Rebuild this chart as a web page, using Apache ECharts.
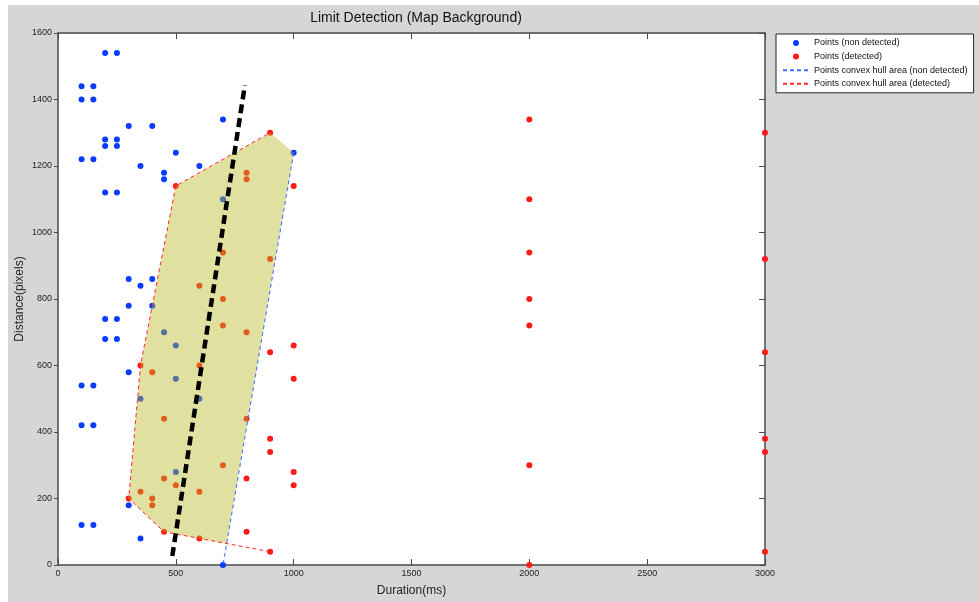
<!DOCTYPE html>
<html>
<head>
<meta charset="utf-8">
<script src="https://cdn.jsdelivr.net/npm/echarts@6/dist/echarts.min.js"></script>
<style>html,body{margin:0;padding:0;background:#fff;}#c{width:979px;height:602px;}</style>
</head>
<body>
<div id="c"></div>
<script>
// Data (Duration ms, Distance pixels)
var nonDetected = [
  [200,1540],[250,1540],[100,1440],[150,1440],[100,1400],[150,1400],[300,1320],[400,1320],
  [200,1280],[250,1280],[200,1260],[250,1260],[100,1220],[150,1220],[350,1200],[450,1180],
  [450,1160],[500,1240],[600,1200],[700,1340],[700,1100],[1000,1240],[200,1120],[250,1120],
  [300,860],[400,860],[350,840],[300,780],[400,780],[200,740],[250,740],[200,680],[250,680],
  [450,700],[500,660],[300,580],[500,560],[100,540],[150,540],[350,500],[600,500],[100,420],
  [150,420],[500,280],[300,180],[100,120],[150,120],[350,80],[700,0]
];
var detected = [
  [700,800],[700,720],[800,700],[900,640],[1000,660],[1000,560],[350,600],[400,580],[600,600],
  [450,440],[800,440],[900,380],[900,340],[700,300],[1000,280],[450,260],[500,240],[800,260],
  [1000,240],[350,220],[600,220],[300,200],[400,200],[400,180],[450,100],[600,80],[800,100],
  [900,40],[500,1140],[900,1300],[800,1180],[800,1160],[1000,1140],[700,940],[900,920],[600,840],
  [2000,1340],[2000,1100],[2000,940],[2000,800],[2000,720],[2000,300],[2000,0],
  [3000,1300],[3000,920],[3000,640],[3000,380],[3000,340],[3000,40]
];
var hullArea = [[300,200],[350,600],[500,1140],[900,1300],[1000,1240],[715,65],[600,80],[450,100]];
var hullDetected = [[900,40],[600,80],[450,100],[300,200],[350,600],[500,1140],[900,1300]];
var hullNonDetected = [[1000,1240],[700,0]];
var limitLine = [[485,27],[793,1443]];
var xTicks = {min:0, max:3000, interval:500};
var yTicks = {min:0, max:1600, interval:200};

var FONT = 'Liberation Sans';
var chart = echarts.init(document.getElementById('c'));
var axisLineStyle = {color:'#4a4a4a', width:1.5};
var plain = function(v){ return String(v); };
var labelStyle = {color:'#222', fontSize:9, fontFamily:FONT, formatter:plain};
var noSymbol = {color:'rgba(0,0,0,0)', borderWidth:0, opacity:0};

chart.setOption({
  backgroundColor:'#ffffff',
  animation:false,
  graphic:[{type:'rect', z:-100, silent:true, shape:{x:8,y:5,width:971,height:597}, style:{fill:'#d6d6d6'}}],
  title:{text:'Limit Detection (Map Background)', left:411, top:6, textAlign:'center',
    textStyle:{fontSize:14, fontWeight:'normal', color:'#111', fontFamily:FONT}},
  legend:{
    orient:'vertical', left:776, top:34, padding:[3,6,3,6],
    backgroundColor:'#ffffff', borderColor:'#222', borderWidth:1, borderRadius:0,
    itemWidth:26, itemHeight:6, itemGap:1.6,
    textStyle:{fontSize:9, lineHeight:12, color:'#111', fontFamily:FONT},
    data:[
      {name:'Points (non detected)'},
      {name:'Points (detected)'},
      {name:'Points convex hull area (non detected)', itemStyle:noSymbol},
      {name:'Points convex hull area (detected)', itemStyle:noSymbol}
    ]
  },
  grid:{left:58, right:214, top:33, bottom:33, show:true, backgroundColor:'#ffffff', borderWidth:0},
  xAxis:[
    {type:'value', min:xTicks.min, max:xTicks.max, interval:xTicks.interval, position:'bottom',
     name:'Duration(ms)', nameLocation:'middle', nameGap:20, nameMoveOverlap:false,
     nameTextStyle:{fontSize:12, color:'#222', fontFamily:FONT},
     axisLine:{show:true, onZero:false, lineStyle:axisLineStyle},
     axisTick:{show:true, inside:true, length:6, lineStyle:{color:'#4a4a4a'}},
     axisLabel:Object.assign({margin:4}, labelStyle), splitLine:{show:false}},
    {type:'value', min:xTicks.min, max:xTicks.max, interval:xTicks.interval, position:'top',
     axisLine:{show:true, onZero:false, lineStyle:axisLineStyle},
     axisTick:{show:true, inside:true, length:6, lineStyle:{color:'#4a4a4a'}},
     axisLabel:{show:false}, splitLine:{show:false}}
  ],
  yAxis:[
    {type:'value', min:yTicks.min, max:yTicks.max, interval:yTicks.interval, position:'left',
     name:'Distance(pixels)', nameLocation:'middle', nameGap:32, nameRotate:90, nameMoveOverlap:false,
     nameTextStyle:{fontSize:12, color:'#222', fontFamily:FONT},
     axisLine:{show:true, onZero:false, lineStyle:axisLineStyle},
     axisTick:{show:true, inside:false, length:4, lineStyle:{color:'#4a4a4a'}},
     axisLabel:Object.assign({margin:6}, labelStyle), splitLine:{show:false}},
    {type:'value', min:yTicks.min, max:yTicks.max, interval:yTicks.interval, position:'right',
     axisLine:{show:true, onZero:false, lineStyle:axisLineStyle},
     axisTick:{show:true, inside:true, length:6, lineStyle:{color:'#4a4a4a'}},
     axisLabel:{show:false}, splitLine:{show:false}}
  ],
  series:[
    {name:'Points (non detected)', type:'scatter', data:nonDetected, symbol:'circle', symbolSize:6,
     itemStyle:{color:'#0a3cff', opacity:1}, z:2},
    {name:'Points (detected)', type:'scatter', data:detected, symbol:'circle', symbolSize:6,
     itemStyle:{color:'#ff1a1a', opacity:1}, z:2},
    {type:'custom', data:hullArea, z:5, silent:true, clip:true,
     renderItem:function(params, api){
       if(params.dataIndex !== 0) return null;
       return {type:'polygon', shape:{points:hullArea.map(function(p){return api.coord(p);})},
               style:{fill:'rgba(184,184,34,0.43)', stroke:null}};
     }},
    {name:'Points convex hull area (non detected)', type:'line', data:hullNonDetected, symbol:'none', z:6,
     lineStyle:{color:'#3a6cff', width:1, type:[4,3]}, itemStyle:{color:'#3a6cff'}},
    {name:'Points convex hull area (detected)', type:'line', data:hullDetected, symbol:'none', z:6,
     lineStyle:{color:'#ff2a2a', width:1, type:[4,3]}, itemStyle:{color:'#ff2a2a'}},
    {type:'line', data:limitLine, symbol:'none', z:7,
     lineStyle:{color:'#000', width:4.5, type:[9,5]}}
  ]
});
</script>
</body>
</html>
